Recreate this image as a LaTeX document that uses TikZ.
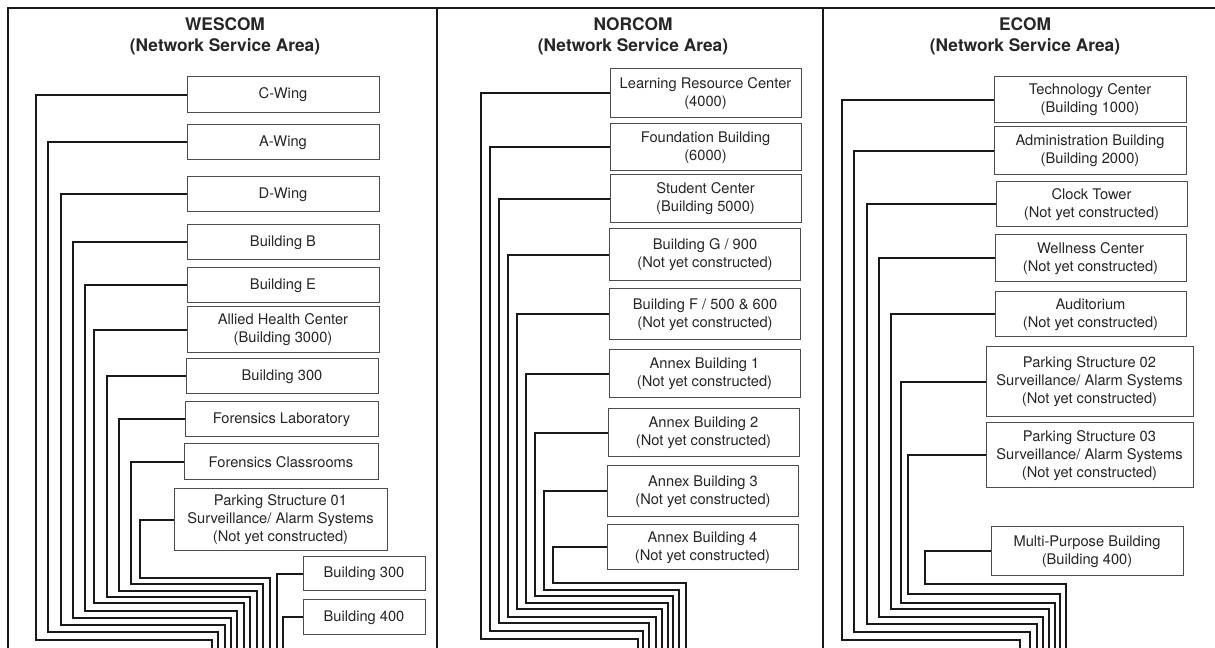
\documentclass[tikz,border=0pt]{standalone}
\usepackage{fontspec}
\setmainfont{TeX Gyre Heros}
\begin{document}
\begin{tikzpicture}[x=0.75pt,y=-0.75pt,
  box/.style={draw=black!70, line width=0.75pt, fill=white, align=center, inner sep=0pt, text=black!85, font=\fontsize{11}{13.5}\selectfont},
  sz/.style 2 args={minimum width=#1*0.75pt, minimum height=#2*0.75pt},
  title/.style={align=center, text=black!85, font=\bfseries\fontsize{13}{15.75}\selectfont},
  link/.style={draw=black!90, line width=1.5pt},
  frame/.style={draw=black!90, line width=2pt}]
\useasboundingbox (0,0) rectangle (1215,648);
\fill[white] (0,0) rectangle (1215,648);
% frame
\coordinate (fa) at (8,648);
\coordinate (fb) at (8,8);
\coordinate (fc) at (1215,8);
\coordinate (s1t) at (437,8);
\coordinate (s1b) at (437,648);
\coordinate (s2t) at (823,8);
\coordinate (s2b) at (823,648);
\draw[frame] (fa) -- (fb) -- (fc);
\draw[frame] (s1t) -- (s1b);
\draw[frame] (s2t) -- (s2b);
% titles
\node[title] (tw) at (225,36.5) {WESCOM\\(Network Service Area)};
\node[title] (tn) at (633,36.5) {NORCOM\\(Network Service Area)};
\node[title] (te) at (1025,36.5) {ECOM\\(Network Service Area)};
% WESCOM
\node[box,sz={192}{36}] (w1) at (283,95) {C-Wing};
\node[box,sz={192}{35}] (w2) at (283,142.5) {A-Wing};
\node[box,sz={192}{35}] (w3) at (283,194.5) {D-Wing};
\node[box,sz={192}{35}] (w4) at (283,242.5) {Building B};
\node[box,sz={192}{35}] (w5) at (283,285.5) {Building E};
\node[box,sz={192}{46}] (w6) at (283,330) {Allied Health Center\\(Building 3000)};
\node[box,sz={192}{35}] (w7) at (282,376.5) {Building 300};
\node[box,sz={193}{35}] (w8) at (281.5,419.5) {Forensics Laboratory};
\node[box,sz={194}{36}] (w9) at (281,462) {Forensics Classrooms};
\node[box,sz={213}{62}] (w10) at (280.5,520) {Parking Structure 01\\Surveillance/ Alarm Systems\\(Not yet constructed)};
\node[box,sz={122}{34}] (w11) at (364,574) {Building 300};
\node[box,sz={122}{35}] (w12) at (364,617.5) {Building 400};
\foreach \n/\xl/\yh/\xr in {w1/36/640/212, w2/48/632/218, w3/61/625/225, w4/73/618/231, w5/85/611/237, w6/94/603/244, w7/107/597/250, w8/119/591/257, w9/131/584/263, w10/140/578/270}{
  \coordinate (\n e) at (\xr,648);
  \draw[link] (\n.west) -| (\xl,\yh) -| (\n e);
}
\coordinate (w11e) at (277,648);
\coordinate (w12e) at (283,648);
\draw[link] (w11.west) -| (w11e);
\draw[link] (w12.west) -| (w12e);
% NORCOM
\node[box,sz={191}{49}] (n1) at (705.5,93.5) {Learning Resource Center\\(4000)};
\node[box,sz={191}{47}] (n2) at (705.5,147.5) {Foundation Building\\(6000)};
\node[box,sz={191}{48}] (n3) at (705.5,199) {Student Center\\(Building 5000)};
\node[box,sz={191}{52}] (n4) at (705,255) {Building G / 900\\(Not yet constructed)};
\node[box,sz={191}{51}] (n5) at (705,314.5) {Building F / 500 \& 600\\(Not yet constructed)};
\node[box,sz={191}{48}] (n6) at (704.5,374) {Annex Building 1\\(Not yet constructed)};
\node[box,sz={191}{48}] (n7) at (703.5,433) {Annex Building 2\\(Not yet constructed)};
\node[box,sz={191}{51}] (n8) at (703,491.5) {Annex Building 3\\(Not yet constructed)};
\node[box,sz={191}{45}] (n9) at (702.5,547.5) {Annex Building 4\\(Not yet constructed)};
\foreach \n/\xl/\yh/\xr in {n1/481/639/638, n2/490/631/643, n3/499/623/649, n4/508/617/656, n5/517/609/662, n6/526/603/668, n7/535/596/673, n8/544/590/679, n9/553/583/686}{
  \coordinate (\n e) at (\xr,648);
  \draw[link] (\n.west) -| (\xl,\yh) -| (\n e);
}
% ECOM
\node[box,sz={192}{46}] (e1) at (1090,100) {Technology Center\\(Building 1000)};
\node[box,sz={192}{48}] (e2) at (1090,151) {Administration Building\\(Building 2000)};
\node[box,sz={191}{45}] (e3) at (1091.5,204.5) {Clock Tower\\(Not yet constructed)};
\node[box,sz={191}{47}] (e4) at (1090.5,258.5) {Wellness Center\\(Not yet constructed)};
\node[box,sz={191}{45}] (e5) at (1090.5,314.5) {Auditorium\\(Not yet constructed)};
\node[box,sz={207}{70}] (e6) at (1089.5,382) {Parking Structure 02\\Surveillance/ Alarm Systems\\(Not yet constructed)};
\node[box,sz={207}{65}] (e7) at (1089.5,455.5) {Parking Structure 03\\Surveillance/ Alarm Systems\\(Not yet constructed)};
\node[box,sz={192}{49}] (e8) at (1087,551.5) {Multi-Purpose Building\\(Building 400)};
\foreach \n/\xl/\yh/\xr in {e1/842/640/1020, e2/854/632/1030, e3/867/624/1037, e4/879/617/1043, e5/891/609/1049, e6/901/603/1055, e7/908/594/1060, e8/925/584/1066}{
  \coordinate (\n e) at (\xr,648);
  \draw[link] (\n.west) -| (\xl,\yh) -| (\n e);
}
\end{tikzpicture}
\end{document}
